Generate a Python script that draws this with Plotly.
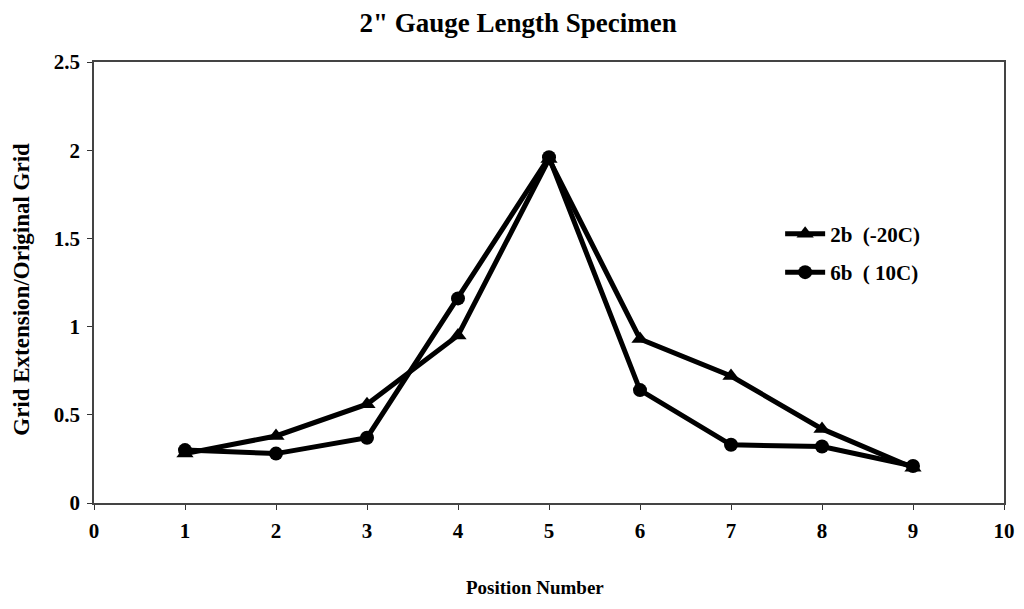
import plotly.graph_objects as go

positions = [1, 2, 3, 4, 5, 6, 7, 8, 9]
series_2b = [0.28, 0.38, 0.56, 0.95, 1.95, 0.93, 0.72, 0.42, 0.20]
series_6b = [0.30, 0.28, 0.37, 1.16, 1.96, 0.64, 0.33, 0.32, 0.21]
x_ticks = [0, 1, 2, 3, 4, 5, 6, 7, 8, 9, 10]
y_ticks = [0, 0.5, 1, 1.5, 2, 2.5]
y_tick_text = ["0", "0.5", "1", "1.5", "2", "2.5"]

font_family = "Liberation Serif, Times New Roman, serif"

fig = go.Figure()
fig.add_trace(go.Scatter(
    x=positions, y=series_2b, name="<b>2b  (-20C)</b>", mode="lines+markers",
    legendgroup="a",
    line=dict(color="black", width=5),
    marker=dict(symbol="triangle-up", size=15, color="black"),
))
fig.add_trace(go.Scatter(
    x=positions, y=series_6b, name="<b>6b  ( 10C)</b>", mode="lines+markers",
    legendgroup="b",
    line=dict(color="black", width=5),
    marker=dict(symbol="circle", size=14, color="black"),
))

# the page body adds an 8px margin, so the figure is sized to fit the window
fig.update_layout(
    width=1008, height=593,
    margin=dict(l=86, r=12, t=54, b=98),
    paper_bgcolor="white", plot_bgcolor="white",
    font=dict(family=font_family, color="black", size=20),
    title=dict(text="<b>2\" Gauge Length Specimen</b>", x=0.506, xanchor="center",
               y=0.976, yanchor="middle", font=dict(size=27, family=font_family)),
    showlegend=True,
    legend=dict(x=0.754, y=0.656, xanchor="left", yanchor="top",
                bgcolor="rgba(0,0,0,0)", font=dict(size=21, family=font_family),
                itemwidth=40, tracegroupgap=8),
    annotations=[
        dict(text="<b>Position Number</b>", xref="paper", yref="paper",
             x=0.485, y=-0.192, xanchor="center", yanchor="middle",
             showarrow=False, font=dict(size=19, family=font_family)),
        dict(text="<b>Grid Extension/Original Grid</b>", xref="paper", yref="paper",
             x=-0.080, y=0.484, xanchor="center", yanchor="middle", textangle=-90,
             showarrow=False, font=dict(size=23, family=font_family)),
    ],
)

fig.update_xaxes(
    range=[0, 10], tickvals=x_ticks, ticktext=[f"<b>{v}</b>" for v in x_ticks],
    showgrid=False, zeroline=False, showline=True, mirror=True, automargin=False,
    linecolor="#444", linewidth=1.5, ticks="outside", ticklen=5, tickcolor="#333",
    ticklabelstandoff=3, ticklabeloverflow="allow", tickfont=dict(size=21),
)
fig.update_yaxes(
    range=[0, 2.5], tickvals=y_ticks, ticktext=[f"<b>{t}</b>" for t in y_tick_text],
    showgrid=False, zeroline=False, showline=True, mirror=True, automargin=False,
    linecolor="#444", linewidth=1.5, ticks="outside", ticklen=5, tickcolor="#333",
    ticklabelstandoff=3, ticklabeloverflow="allow", tickfont=dict(size=21),
)

fig.write_html("out.html")
